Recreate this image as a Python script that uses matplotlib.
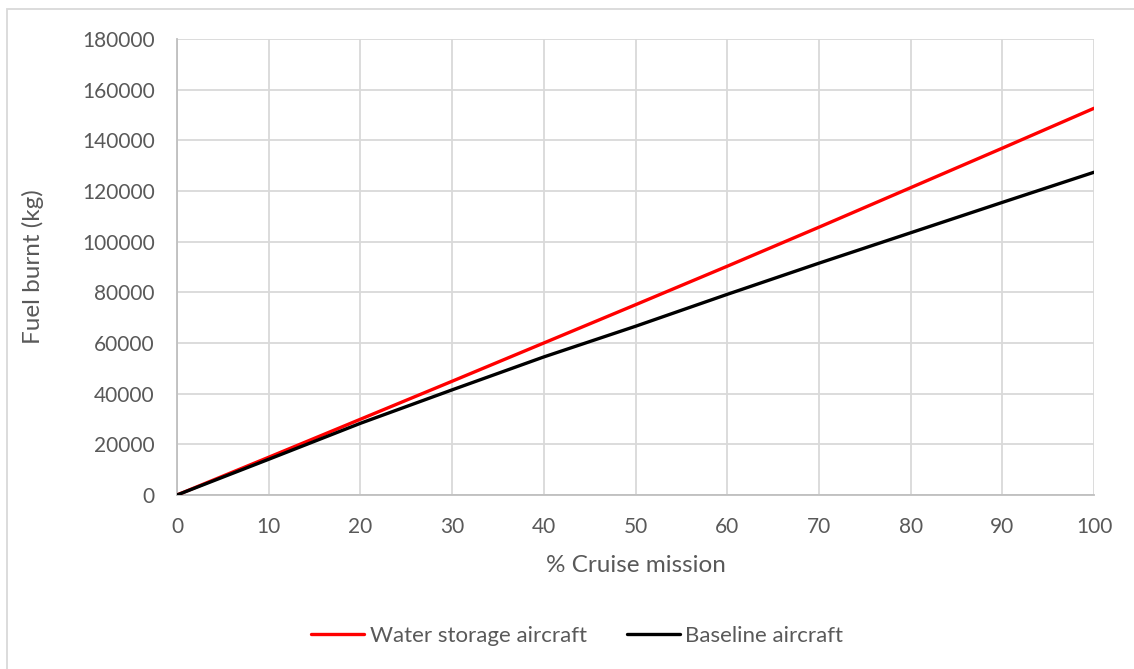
import matplotlib
matplotlib.use("Agg")
import matplotlib.pyplot as plt
from matplotlib.patches import Rectangle

# data
cruise_pct = [0, 10, 20, 30, 40, 50, 60, 70, 80, 90, 100]
water_storage = [0, 14900, 29900, 44900, 60000, 75100, 90300, 105700, 121300, 136900, 152650]
baseline = [0, 14100, 28300, 41500, 54500, 66600, 79200, 91500, 103500, 115500, 127400]

x_ticks = list(range(0, 101, 10))
y_ticks = list(range(0, 180001, 20000))

plt.rcParams["font.family"] = ["Lato", "DejaVu Sans"]
text_col = "#595959"
grid_col = "#d9d9d9"

fig = plt.figure(figsize=(11.34, 6.69), dpi=100)
ax = fig.add_axes([177 / 1134, 1 - 495 / 669, (1094 - 177) / 1134, (495 - 39) / 669])

ax.plot(cruise_pct, water_storage, color="#ff0000", lw=2.4, label="Water storage aircraft",
        solid_capstyle="round", zorder=3)
ax.plot(cruise_pct, baseline, color="#000000", lw=2.4, label="Baseline aircraft",
        solid_capstyle="round", zorder=3)

ax.set_xlim(0, 100)
ax.set_ylim(0, 180000)
ax.set_xticks(x_ticks)
ax.set_yticks(y_ticks)
ax.grid(True, color=grid_col, lw=1.3)
ax.set_axisbelow(True)
for side in ["top", "right"]:
    ax.spines[side].set_visible(False)
for side in ["left", "bottom"]:
    ax.spines[side].set_color("#bfbfbf")
    ax.spines[side].set_linewidth(1.3)
ax.tick_params(axis="both", length=0, labelsize=15, colors=text_col, pad=16)

ax.set_xlabel("% Cruise mission", fontsize=17.5, color=text_col, va="center")
ax.set_ylabel("Fuel burnt (kg)", fontsize=17.5, color=text_col, va="center")
ax.xaxis.set_label_coords(0.5, (495 - 566) / 456)
ax.yaxis.set_label_coords((33 - 177) / 917, 0.5)

fig.legend(loc="center", bbox_to_anchor=(577 / 1134, 1 - 636 / 669), ncol=2, frameon=False,
           fontsize=16, handlelength=2.4, handletextpad=0.25, columnspacing=1.8,
           labelcolor=text_col)

# outer chart border (only left and top edges fall inside the image)
fig.patches.append(Rectangle((7 / 1134, -0.05), 1.2, 1.05 - 9 / 669, transform=fig.transFigure,
                             fill=False, edgecolor="#d9d9d9", lw=1.3))

fig.savefig("out.png", dpi=100, facecolor="white")
